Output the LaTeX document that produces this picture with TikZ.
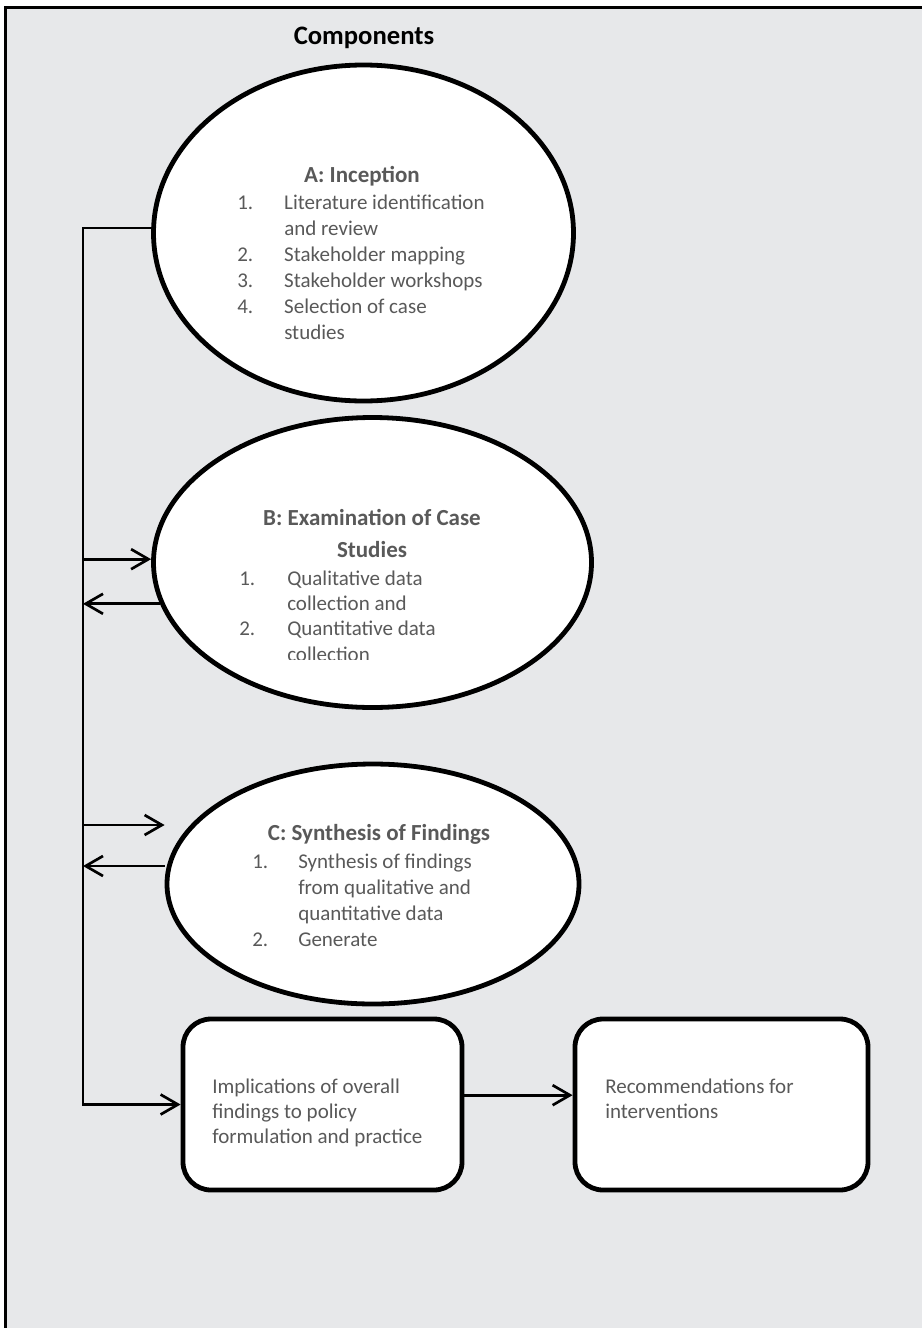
\documentclass[tikz,border=0pt]{standalone}
\usepackage{fontspec}
\setmainfont{Carlito}
\usetikzlibrary{arrows.meta,shapes.geometric}
\definecolor{bg}{HTML}{E7E8EA}
\definecolor{txt}{HTML}{595959}
\begin{document}
\begin{tikzpicture}[x=0.75pt,y=-0.75pt,
  phase/.style={ellipse, draw=black, line width=3.6pt, fill=white, inner sep=0pt},
  endbox/.style={rectangle, rounded corners=21pt, draw=black, line width=3.6pt, fill=white, inner sep=0pt},
  link/.style={line width=2pt, -{Straight Barb[length=13pt,width=15pt]}},
  head/.style={font=\fontsize{17.25}{24}\selectfont\bfseries, text=txt, anchor=base, inner sep=0pt},
  item/.style={font=\fontsize{15.75}{19.5}\selectfont, text=txt, anchor=base west, inner sep=0pt},
  itemB/.style={font=\fontsize{15.75}{19}\selectfont, text=txt, anchor=base west, inner sep=0pt},
  boxtext/.style={font=\fontsize{15.75}{18.75}\selectfont, text=txt, anchor=base west, inner sep=0pt},
]
\useasboundingbox (0,0) rectangle (922,1328);
\fill[bg] (6,8) rectangle (922,1328);
\draw[line width=2.25pt] (5.5,1328) -- (5.5,7.5) -- (922,7.5);

\node[font=\fontsize{20}{24}\selectfont\bfseries, anchor=base, inner sep=0pt] (title) at (364,44) {Components};

% phases
\node[phase, minimum width=315pt, minimum height=252pt] (A) at (363.5,233) {};
\node[phase, minimum width=328.5pt, minimum height=217.5pt] (B) at (372.5,562.5) {};
\node[phase, minimum width=309pt, minimum height=180pt] (C) at (373,884) {};

% end boxes
\node[endbox, minimum width=209.25pt, minimum height=128.25pt] (D) at (322.5,1104.5) {};
\node[endbox, minimum width=219.75pt, minimum height=128.25pt] (E) at (721.5,1104.5) {};

\coordinate (spine) at (83,0);

% connectors
\draw[link] ([yshift=3.75pt]A.west) -- ([yshift=3.75pt]A.west -| spine) -- (spine |- D.west) -- (D.west);
\draw[link] ([yshift=2.5pt]B.west -| spine) -- ([yshift=2.5pt]B.west);
\draw[link] (B.191) -- (B.191 -| spine);
\draw[link] ([yshift=44.25pt]C.west -| spine) -- ([yshift=44.25pt]C.west);
\draw[link] ([yshift=13.5pt]C.west) -- ([yshift=13.5pt]C.west -| spine);
\draw[link] ([yshift=7pt]D.east) -- ([yshift=7pt]E.west);

% texts A
\node[head] (Ah) at (362,182) {A: Inception};
\node[item] (Al) at (237,209) {\begin{tabular}[t]{@{}p{35.25pt}@{}l@{}}
1. & Literature identification\\
   & and review\\
2. & Stakeholder mapping\\
3. & Stakeholder workshops\\
4. & Selection of case\\
   & studies
\end{tabular}};

% texts B
\node[head] (Bh1) at (372,525) {B: Examination of Case};
\node[head] (Bh2) at (372,557) {Studies};
\begin{scope}
\clip (150,560) rectangle (600,659);
\node[itemB] (Bl) at (239,585) {\begin{tabular}[t]{@{}p{36pt}@{}l@{}}
1. & Qualitative data\\
   & collection and\\
2. & Quantitative data\\
   & collection
\end{tabular}};
\end{scope}

% texts C
\node[head] (Ch) at (379,840) {C: Synthesis of Findings};
\node[item] (Cl) at (252,868) {\begin{tabular}[t]{@{}p{34.5pt}@{}l@{}}
1. & Synthesis of findings\\
   & from qualitative and\\
   & quantitative data\\
2. & Generate
\end{tabular}};

% box texts
\node[boxtext] (Dt) at (212,1093) {\begin{tabular}[t]{@{}l@{}}
Implications of overall\\
findings to policy\\
formulation and practice
\end{tabular}};
\node[boxtext] (Et) at (605,1093) {\begin{tabular}[t]{@{}l@{}}
Recommendations for\\
interventions
\end{tabular}};
\end{tikzpicture}
\end{document}
